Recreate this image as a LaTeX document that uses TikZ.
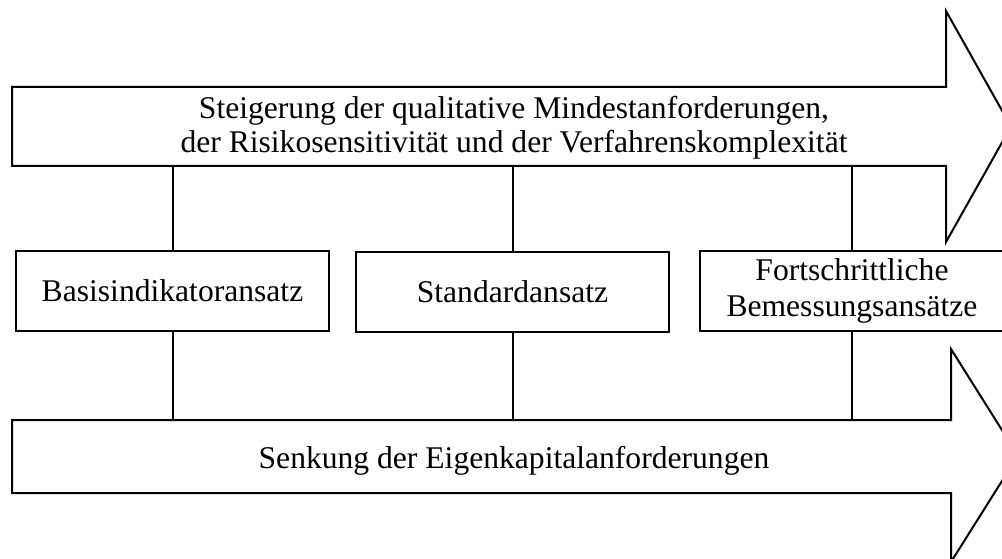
\documentclass[tikz,border=0pt]{standalone}
\usepackage{fontspec}
\setmainfont{Liberation Serif}
\begin{document}
\begin{tikzpicture}[x=1pt,y=-1pt,line width=2pt,line join=miter,
  lbl/.style={font=\fontsize{31.6}{34.3}\selectfont,align=center,anchor=base,inner sep=0pt},
  boxnode/.style={draw,fill=white,minimum height=80pt,inner sep=0pt,
    font=\fontsize{31.6}{36}\selectfont,align=center},
  arrowshape/.style={draw,fill=white},
  link/.style={draw}]
\useasboundingbox (0,0) rectangle (1002,559);
\clip (0,0) rectangle (1002,559);
% top arrow
\path[arrowshape] (12,87) -- (946,87) -- (946,11) -- (1011,126.5) -- (946,242) -- (946,166) -- (12,166) -- cycle;
\coordinate (topbot) at (514,166);
\node[lbl] (toptext) at (514,153) {Steigerung der qualitative Mindestanforderungen,\\der Risikosensitivität und der Verfahrenskomplexität};
% bottom arrow
\path[arrowshape] (12,420) -- (951,420) -- (951,349) -- (1018,455.5) -- (951,562) -- (951,493) -- (12,493) -- cycle;
\coordinate (bottop) at (514,420);
\node[lbl] (bottext) at (514,468) {Senkung der Eigenkapitalanforderungen};
% boxes
\node[boxnode,minimum width=313pt] (box1) at (172.5,291) {Basisindikatoransatz};
\node[boxnode,minimum width=313pt] (box2) at (512.5,291.5) {Standardansatz};
\node[boxnode,minimum width=304pt] (box3) at (852,291) {Fortschrittliche\\Bemessungsansätze};
% connectors
\foreach \b in {box1,box2,box3}{
  \draw[link] (\b.north) -- (\b.north |- topbot);
  \draw[link] (\b.south) -- (\b.south |- bottop);
}
\end{tikzpicture}
\end{document}
